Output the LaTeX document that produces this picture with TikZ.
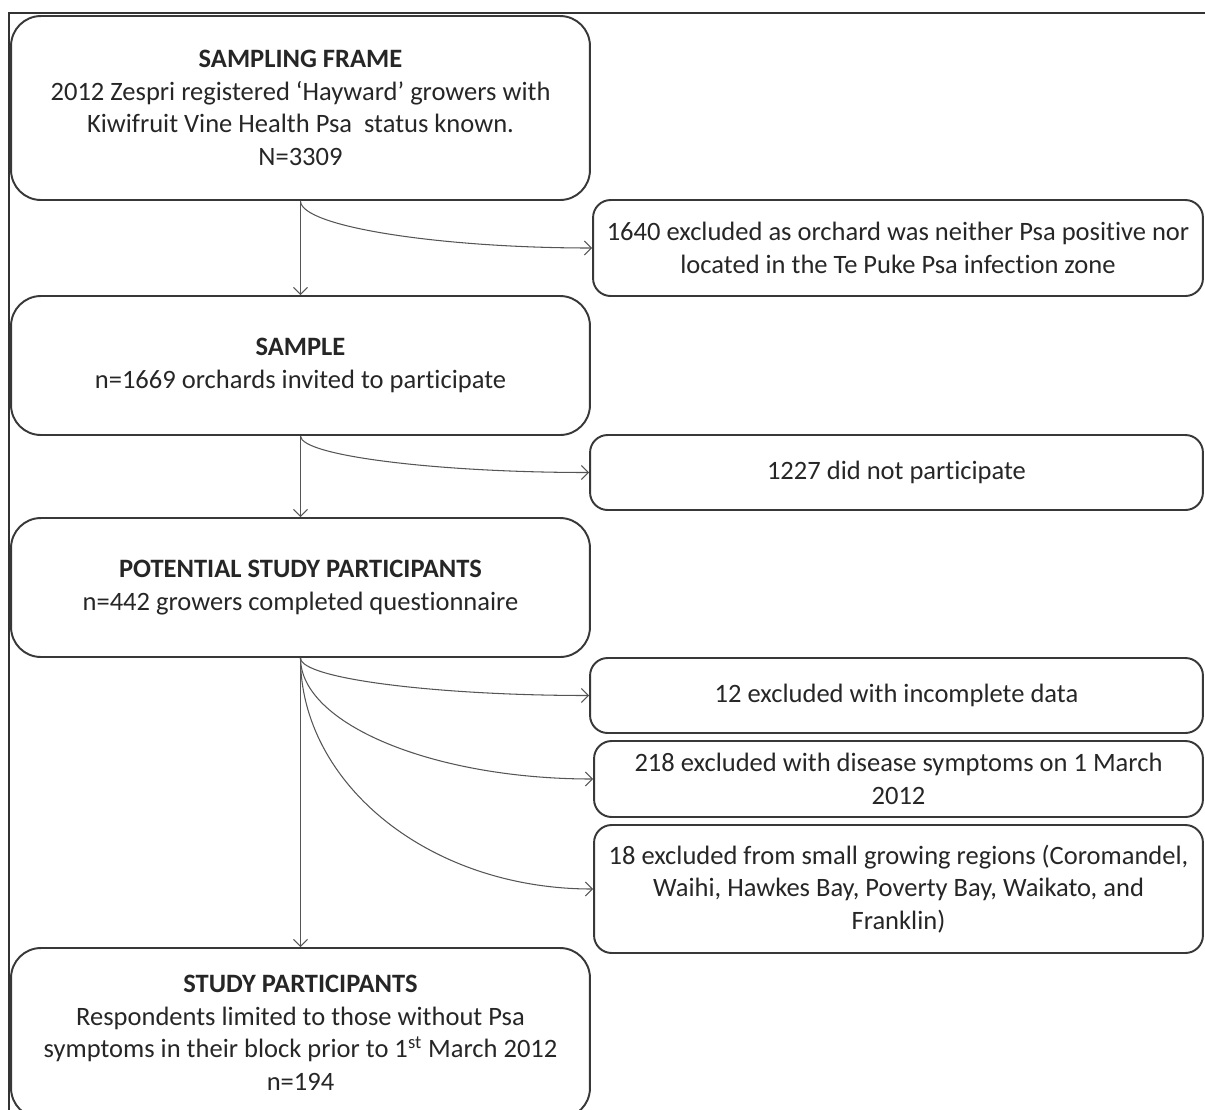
\documentclass[tikz,border=0pt]{standalone}
\usepackage{fontspec}
\setmainfont{Carlito}[Ligatures=NoCommon]
\usetikzlibrary{arrows.meta}
\definecolor{frameline}{HTML}{333333}
\definecolor{boxline}{HTML}{383838}
\definecolor{flowline}{HTML}{555555}
\definecolor{flowtext}{HTML}{262626}

\begin{document}
\begin{tikzpicture}[x=0.02cm, y=-0.02cm, stage/.style={draw=boxline, line width=1.1pt, rounded corners=17pt, minimum width=11.58cm, inner sep=0pt, align=center, text=flowtext, font=\fontsize{15.1}{18.5}\selectfont}, excluded/.style={draw=boxline, line width=1.1pt, rounded corners=10pt, inner sep=0pt, align=center, text=flowtext, font=\fontsize{15.1}{18.5}\selectfont}, arrow/.style={-{Straight Barb[length=4pt,width=8pt]}, draw=flowline, line width=0.6pt}]
\useasboundingbox (0,0) rectangle (1205,1110);
\draw[frameline, line width=1.1pt] (9,1140) -- (9,13) -- (1230,13);
\node[stage, minimum height=3.68cm] (frame) at (300.5,108) {\textbf{SAMPLING FRAME}\\2012 Zespri registered ‘Hayward’ growers with\\Kiwifruit Vine Health Psa\ \ status known.\\N=3309};
\node[excluded, minimum width=12.2cm, minimum height=1.92cm] (x1) at (898,248) {1640 excluded as orchard was neither Psa positive nor\\located in the Te Puke Psa infection zone};
\node[stage, minimum height=2.78cm] (sample) at (300.5,365.5) {\textbf{SAMPLE}\\n=1669 orchards invited to participate};
\node[excluded, minimum width=12.26cm, minimum height=1.5cm] (x2) at (896.5,472.5) {1227 did not participate};
\node[stage, minimum height=2.78cm] (potential) at (300.5,587.5) {\textbf{POTENTIAL STUDY PARTICIPANTS}\\n=442 growers completed questionnaire};
\node[excluded, minimum width=12.26cm, minimum height=1.5cm] (x3) at (896.5,695.5) {12 excluded with incomplete data};
\node[excluded, minimum width=12.18cm, minimum height=1.52cm] (x4) at (898.5,779) {218 excluded with disease symptoms on 1 March\\2012};
\node[excluded, minimum width=12.18cm, minimum height=2.56cm] (x5) at (898.5,889) {18 excluded from small growing regions (Coromandel,\\Waihi, Hawkes Bay, Poverty Bay, Waikato, and\\Franklin)};
\node[stage, minimum height=3.4cm] (study) at (300.5,1033) {\textbf{STUDY PARTICIPANTS}\\Respondents limited to those without Psa\\symptoms in their block prior to 1\textsuperscript{st} March 2012\\n=194};
\draw[arrow] (frame) -- (sample);
\draw[arrow] (frame.south) .. controls +(0,26) and +(-150,0) .. (x1.west);
\draw[arrow] (sample) -- (potential);
\draw[arrow] (sample.south) .. controls +(0,20) and +(-150,0) .. (x2.west);
\draw[arrow] (potential) -- (study);
\draw[arrow] (potential.south) .. controls +(0,21) and +(-150,0) .. (x3.west);
\draw[arrow] (potential.south) .. controls +(0,66) and +(-160,0) .. (x4.west);
\draw[arrow] (potential.south) .. controls +(0,125) and +(-165,0) .. (x5.west);
\end{tikzpicture}
\end{document}
